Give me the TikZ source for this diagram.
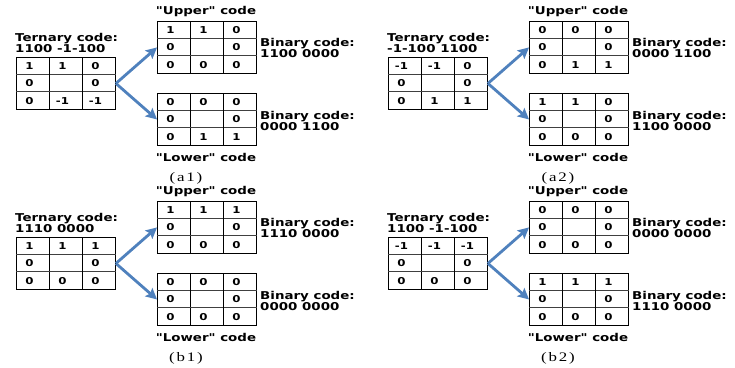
\documentclass[tikz,border=0pt]{standalone}
\usepackage{fontspec}
\usetikzlibrary{arrows.meta,calc}
\newfontfamily\labfont{DejaVu Sans}[FakeStretch=1.24]
\newfontfamily\capfont{Liberation Serif}[FakeStretch=1.3,LetterSpace=14]
\definecolor{flowblue}{RGB}{79,129,189}
\tikzset{
  gridbox/.style={draw=black, line width=0.9pt, minimum width=99pt, minimum height=52pt, inner sep=0pt, anchor=north west},
  cellnum/.style={font=\labfont\bfseries\fontsize{9.5}{10}\selectfont, inner sep=0pt},
  lab/.style={font=\labfont\bfseries\fontsize{10.8}{11}\selectfont, align=left, inner sep=0pt, anchor=west},
  ttl/.style={font=\labfont\bfseries\fontsize{10.8}{11}\selectfont, inner sep=0pt},
  captext/.style={font=\capfont\fontsize{13}{14}\selectfont, inner sep=0pt},
  flow/.style={draw=flowblue, line width=2.8pt, -{Stealth[length=11pt,width=11pt,inset=2pt]}},
  hline/.style={draw=black!75, line width=1.2pt},
  vline/.style={draw=black, line width=0.9pt},
}
\newcommand\cgrid[3]{%
  \node[gridbox] (#1) at (#2) {};
  \foreach \k in {1,2} {
    \draw[hline] ($(#1.north west)+(0,\k*17.33)$) -- ($(#1.north east)+(0,\k*17.33)$);
    \draw[vline] ($(#1.north west)+(\k*33,0)$) -- ($(#1.south west)+(\k*33,0)$);
  }
  \foreach \v [count=\i from 0] in {#3} {
    \pgfmathtruncatemacro\myrow{\i/3}
    \pgfmathtruncatemacro\mycol{\i-3*\myrow}
    \node[cellnum] (#1-\i) at ($(#1.north west)+(\mycol*33+13.5,\myrow*17.33+8.9)$) {\v};
  }
}
\newcommand\panel[9]{%
  \begin{scope}[shift={(#9)}]
    \node[lab] (#1tl) at (15,43) {Ternary code:\\#2};
    \cgrid{#1t}{16,57}{#3}
    \node[ttl] (#1ul) at (206,12) {"Upper" code};
    \cgrid{#1u}{157,21}{#4}
    \node[lab] (#1ub) at (260,48) {Binary code:\\#5};
    \cgrid{#1l}{157,93}{#6}
    \node[lab] (#1lb) at (260,120.5) {Binary code:\\#7};
    \node[ttl] (#1ll) at (206,157) {"Lower" code};
    \node[captext] (#1c) at (186,178) {#8};
    \draw[flow] (#1t.east) -- (#1u.west);
    \draw[flow] (#1t.east) -- (#1l.west);
  \end{scope}
}
\begin{document}
\begin{tikzpicture}[x=1pt,y=-1pt]
  \useasboundingbox[fill=white] (0,0) rectangle (735,367);
  \panel{a}{1100 -1-100}{1,1,0,0,,0,0,-1,-1}{1,1,0,0,,0,0,0,0}{1100 0000}{0,0,0,0,,0,0,1,1}{0000 1100}{(a1)}{0,0}
  \panel{b}{-1-100 1100}{-1,-1,0,0,,0,0,1,1}{0,0,0,0,,0,0,1,1}{0000 1100}{1,1,0,0,,0,0,0,0}{1100 0000}{(a2)}{372,0}
  \panel{c}{1110 0000}{1,1,1,0,,0,0,0,0}{1,1,1,0,,0,0,0,0}{1110 0000}{0,0,0,0,,0,0,0,0}{0000 0000}{(b1)}{0,180}
  \panel{d}{1100 -1-100}{-1,-1,-1,0,,0,0,0,0}{0,0,0,0,,0,0,0,0}{0000 0000}{1,1,1,0,,0,0,0,0}{1110 0000}{(b2)}{372,180}
\end{tikzpicture}
\end{document}
